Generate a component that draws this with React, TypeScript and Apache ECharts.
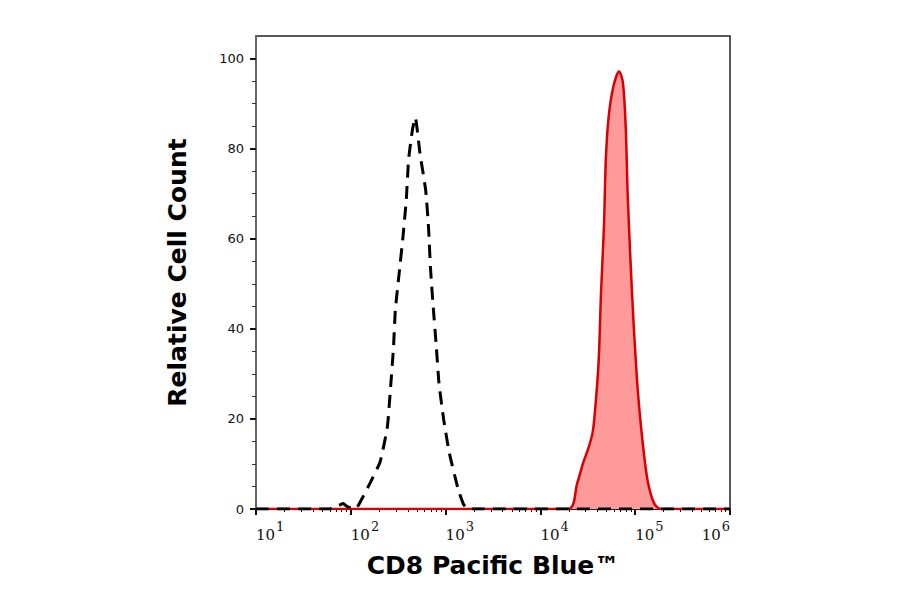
import React, { useEffect, useRef } from 'react';
import * as echarts from 'echarts';

// isotype control (dashed) – [fluorescence intensity, relative count]
const controlIntensity = [10, 60, 75, 83, 92, 112, 132, 160, 204, 243, 263, 282, 295, 324, 355, 385, 407, 447, 479, 537, 617, 661, 692, 741, 794, 851, 955, 1096, 1365, 1549, 1738, 1000000];
const controlCount = [0, 0, 0.8, 1.2, 0.5, 0, 2.4, 5.8, 10.5, 18.2, 27.1, 35.8, 44.2, 52.4, 60.4, 68.7, 77.6, 84.2, 86.9, 78.9, 70.7, 62.4, 53.6, 44.7, 36.7, 28, 19.8, 12.4, 4.2, 1, 0, 0];

// CD8 stained sample (red, filled)
const stainedIntensity = [10, 19500, 24500, 28200, 31600, 35500, 38000, 41200, 43600, 46800, 49000, 52500, 58900, 67600, 74100, 79400, 83200, 89100, 96600, 107000, 120000, 135000, 158000, 186000, 1000000];
const stainedCount = [0, 0, 5.8, 10.2, 13.1, 16.9, 22.7, 33, 48, 62.7, 77.6, 87.1, 93.8, 97.1, 94.7, 84.9, 70.2, 55.3, 40.5, 25.8, 14.7, 6.4, 1.3, 0, 0];

const decades = [10, 100, 1000, 10000, 100000, 1000000];
const minorSteps = [2, 3, 4, 5, 6, 7, 8, 9];
const yTicks = [0, 20, 40, 60, 80, 100];

const SANS = 'DejaVu Sans';
const SERIF = 'DejaVu Serif';

export default function App() {
  const chartRef = useRef<HTMLDivElement>(null);

  useEffect(() => {
    if (!chartRef.current) return;
    const chart = echarts.init(chartRef.current, null, { renderer: 'svg' });

    const minorValues: number[] = [];
    decades.slice(0, -1).forEach(d => minorSteps.forEach(m => minorValues.push(d * m)));

    chart.setOption({
      animation: false,
      grid: { left: 256, right: 170, top: 36, bottom: 85, show: true, borderColor: '#222', borderWidth: 1.5 },
      xAxis: [
        {
          type: 'log',
          logBase: 10,
          min: 10,
          max: 1000000,
          name: 'CD8 Pacific Blue™',
          nameLocation: 'middle',
          nameGap: 44,
          nameTextStyle: { fontFamily: SANS, fontWeight: 'bold', fontSize: 25, color: '#000' },
          axisLine: { show: true, lineStyle: { color: '#111', width: 1.5 } },
          axisTick: { show: true, length: 6, lineStyle: { color: '#111', width: 2 }, customValues: decades },
          axisLabel: {
            customValues: decades,
            margin: 8,
            align: 'left',
            alignMaxLabel: 'right',
            color: '#111',
            fontFamily: SERIF,
            fontSize: 15,
            formatter: (v: number) => `{b|10}{s|${Math.round(Math.log10(v))}}`,
            rich: {
              b: { fontSize: 15, fontFamily: SERIF, color: '#111', padding: [10, 0, 0, 0] },
              s: { fontSize: 13, fontFamily: SERIF, color: '#111', padding: [0, 0, 6, 1] },
            },
          },
          splitLine: { show: false },
        },
        {
          type: 'log',
          logBase: 10,
          min: 10,
          max: 1000000,
          position: 'bottom',
          axisLine: { show: false },
          axisTick: { show: true, length: 3, lineStyle: { color: '#111', width: 1 }, customValues: minorValues },
          axisLabel: { show: false },
          splitLine: { show: false },
        },
      ],
      yAxis: {
        type: 'value',
        min: 0,
        max: 105,
        interval: 20,
        name: 'Relative Cell Count',
        nameLocation: 'middle',
        nameGap: 66,
        nameTextStyle: { fontFamily: SANS, fontWeight: 'bold', fontSize: 25, color: '#000' },
        axisLine: { show: true, lineStyle: { color: '#666', width: 2 } },
        axisTick: { show: true, length: 6, lineStyle: { color: '#111', width: 2 }, customValues: yTicks },
        minorTick: { show: true, splitNumber: 4, length: 4, lineStyle: { color: '#333', width: 1 } },
        axisLabel: {
          customValues: yTicks,
          margin: 12,
          color: '#111',
          fontFamily: SANS,
          fontSize: 13,
        },
        splitLine: { show: false },
      },
      series: [
        {
          type: 'line',
          data: stainedIntensity.map((x, i) => [x, stainedCount[i]]),
          smooth: 0.3,
          symbol: 'none',
          lineStyle: { color: '#d80000', width: 2.5 },
          areaStyle: { color: '#ff9a9a', opacity: 1 },
          z: 2,
        },
        {
          type: 'line',
          data: controlIntensity.map((x, i) => [x, controlCount[i]]),
          smooth: 0.15,
          symbol: 'none',
          lineStyle: { color: '#000', width: 3, type: [13, 8] },
          z: 3,
        },
      ],
    });

    return () => chart.dispose();
  }, []);

  return (
    <div
      ref={chartRef}
      style={{ position: 'absolute', left: 0, top: 0, width: 900, height: 594, background: '#fff' }}
    />
  );
}
